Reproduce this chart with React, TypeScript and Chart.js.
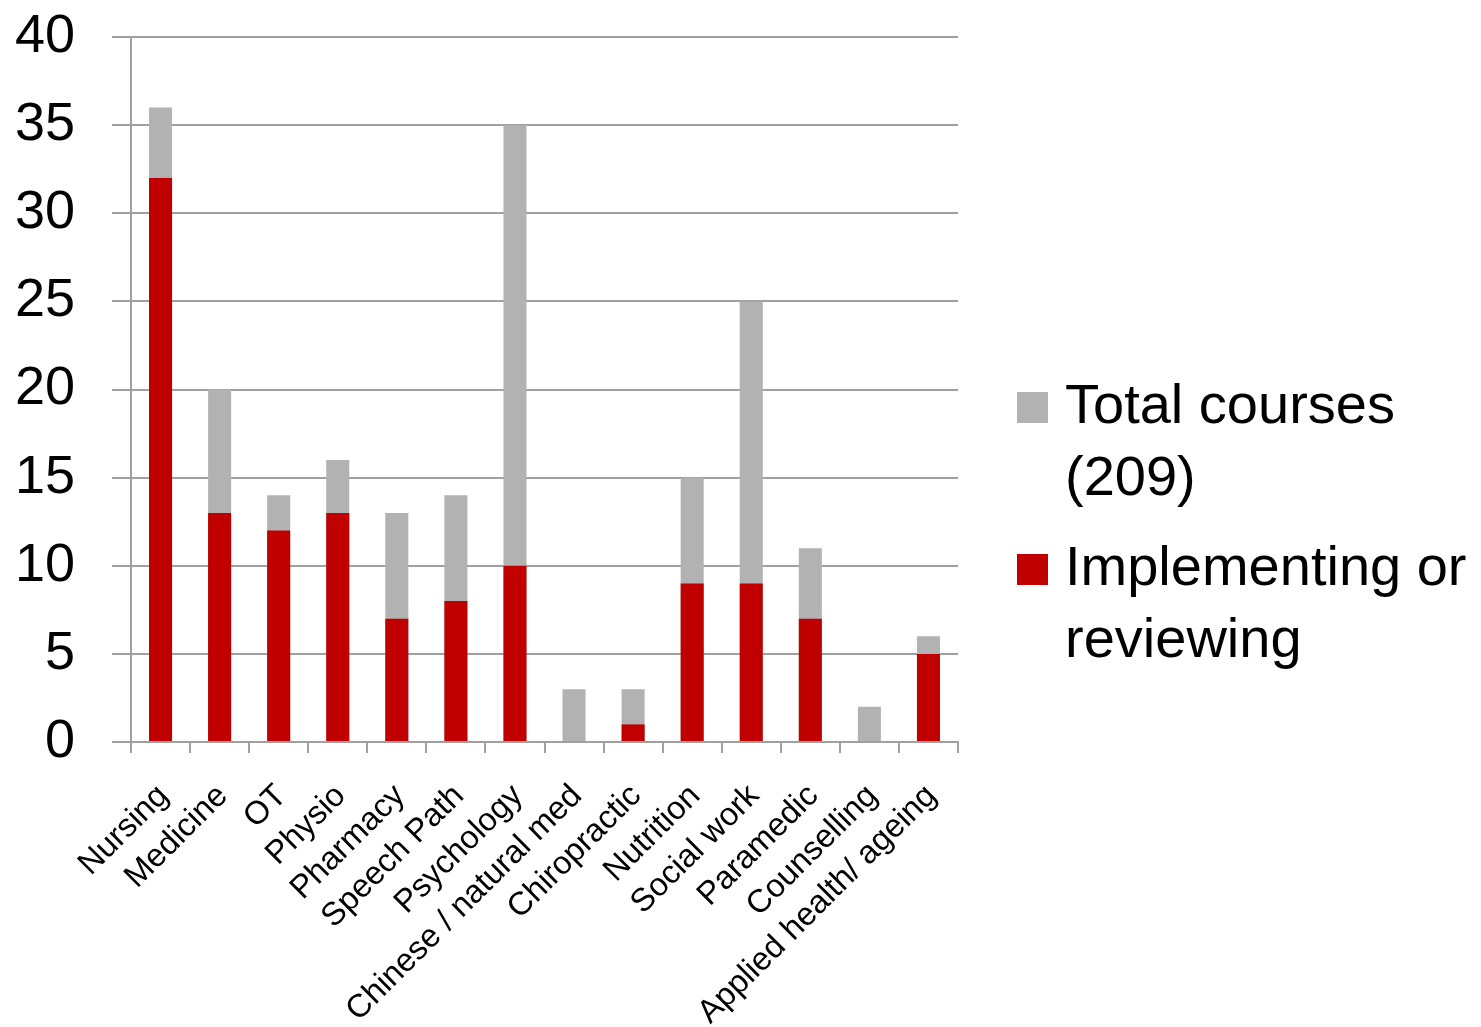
import React, { useEffect, useRef } from "react";
import { Chart, registerables } from "chart.js";

Chart.register(...registerables);

const categories: string[] = [
  "Nursing",
  "Medicine",
  "OT",
  "Physio",
  "Pharmacy",
  "Speech Path",
  "Psychology",
  "Chinese / natural med",
  "Chiropractic",
  "Nutrition",
  "Social work",
  "Paramedic",
  "Counselling",
  "Applied health/ ageing",
];

const totalCourses: number[] = [36, 20, 14, 16, 13, 14, 35, 3, 3, 15, 25, 11, 2, 6];
const implementing: number[] = [32, 13, 12, 13, 7, 8, 10, 0, 1, 9, 9, 7, 0, 5];

const totalLabel = "Total courses\n(209)";
const implLabel = "Implementing or\nreviewing";

const yMin = 0;
const yMax = 40;
const yStep = 5;

const FONT = '"Liberation Sans", Arial, Helvetica, sans-serif';

const legendPlugin = {
  id: "customLegend",
  afterDraw(chart: any) {
    const ctx = chart.ctx;
    const metas = chart.data.datasets
      .map((d: any, i: number) => ({ d, i }))
      .sort((a: any, b: any) => a.i - b.i);
    const boxX = 1017;
    const box = 31;
    const textX = 1065;
    const lineH = 72;
    const itemGap = 90;
    let baseline = 423;
    ctx.save();
    ctx.font = `56px ${FONT}`;
    ctx.textBaseline = "alphabetic";
    ctx.textAlign = "left";
    metas.forEach(({ d }: any) => {
      const lines = String(d.label).split("\n");
      ctx.fillStyle = d.backgroundColor;
      ctx.fillRect(boxX, baseline - box, box, box);
      ctx.fillStyle = "#000000";
      lines.forEach((ln: string, k: number) => {
        ctx.fillText(ln, textX, baseline + k * lineH);
      });
      baseline += (lines.length - 1) * lineH + itemGap;
    });
    ctx.restore();
  },
};

export default function App() {
  const ref = useRef<HTMLCanvasElement | null>(null);

  useEffect(() => {
    if (!ref.current) return;
    const chart = new Chart(ref.current, {
      type: "bar",
      data: {
        labels: categories,
        datasets: [
          {
            label: totalLabel,
            data: totalCourses,
            backgroundColor: "#b2b2b2",
            grouped: false,
            order: 1,
            categoryPercentage: 1,
            barPercentage: 0.39,
          } as any,
          {
            label: implLabel,
            data: implementing,
            backgroundColor: "#c00000",
            grouped: false,
            order: 0,
            categoryPercentage: 1,
            barPercentage: 0.39,
          } as any,
        ],
      },
      options: {
        responsive: false,
        animation: false,
        devicePixelRatio: 1,
        layout: { padding: { top: 37, right: 523, bottom: 0, left: 0 } },
        plugins: {
          legend: { display: false },
          tooltip: { enabled: false },
        },
        scales: {
          x: {
            offset: true,
            grid: {
              offset: true,
              drawOnChartArea: false,
              drawTicks: true,
              tickLength: 11,
              color: "#a0a0a0",
              lineWidth: 2,
            },
            border: { display: true, color: "#a0a0a0", width: 2 },
            ticks: {
              minRotation: 45,
              maxRotation: 45,
              autoSkip: false,
              padding: 24,
              labelOffset: 3,
              color: "#000000",
              font: { family: FONT, size: 32.5 },
            },
            afterFit(scale: any) {
              scale.height = 285;
              scale.paddingLeft = 0;
              scale.paddingRight = 0;
            },
          },
          y: {
            min: yMin,
            max: yMax,
            grid: {
              color: "#a0a0a0",
              lineWidth: 2,
              tickLength: 19,
              drawTicks: true,
            },
            border: { display: true, color: "#a0a0a0", width: 2 },
            ticks: {
              stepSize: yStep,
              padding: 37,
              color: "#000000",
              font: { family: FONT, size: 54 },
            },
            afterFit(scale: any) {
              scale.width = 131;
              scale.paddingTop = 0;
              scale.paddingBottom = 0;
            },
          },
        },
      },
      plugins: [legendPlugin],
    });
    return () => chart.destroy();
  }, []);

  return (
    <div style={{ position: "absolute", left: 0, top: 0, width: 1481, height: 1027, background: "#ffffff" }}>
      <canvas ref={ref} width={1481} height={1027} style={{ display: "block" }} />
    </div>
  );
}
